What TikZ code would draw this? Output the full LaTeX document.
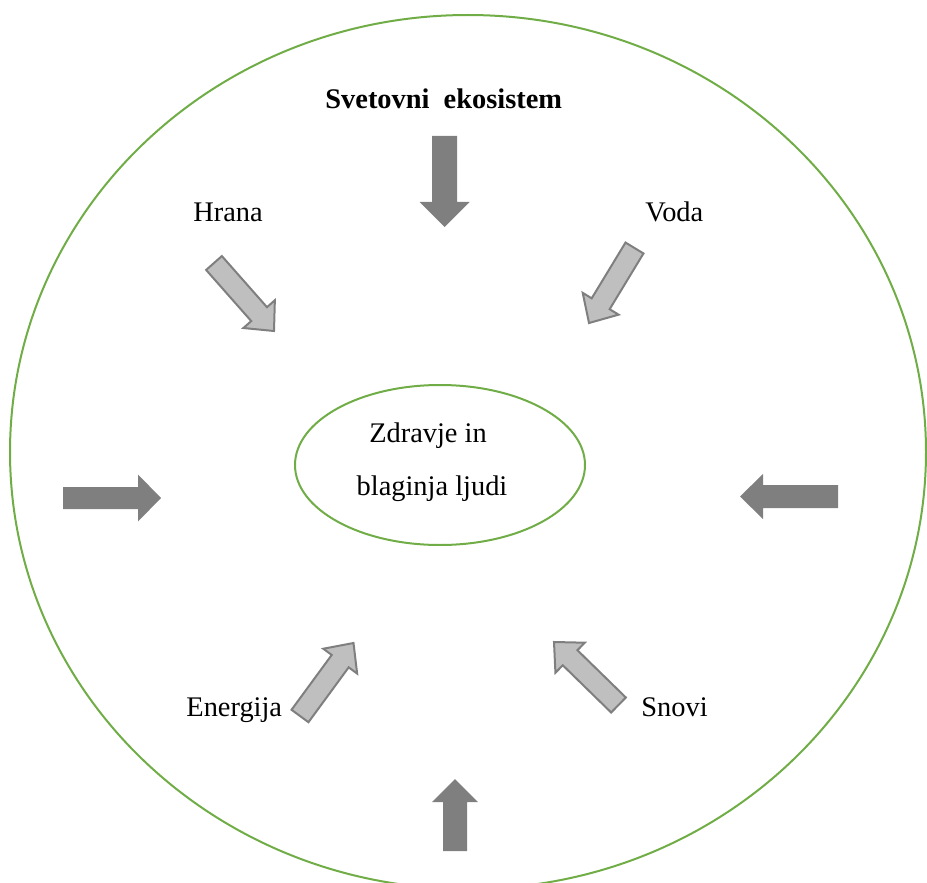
\documentclass[tikz,border=0pt]{standalone}
\usepackage{fontspec}
\setmainfont{Liberation Serif}
\usetikzlibrary{calc,shapes.geometric}

\definecolor{ringgreen}{HTML}{70AD47}
\definecolor{arrowdark}{HTML}{7F7F7F}
\definecolor{arrowlight}{HTML}{BFBFBF}

\tikzset{
  ring/.style={ellipse, draw=ringgreen, line width=1pt, inner sep=0pt},
  darkarrow/.style={fill=arrowdark, draw=none},
  lightarrow/.style={fill=arrowlight, draw=arrowdark, line width=1pt, line join=miter},
  lbl/.style={inner sep=0pt, font=\fontsize{14.2}{17}\selectfont},
  title/.style={lbl, font=\fontsize{14.2}{17}\selectfont\bfseries},
}

% Block arrow: #1 style, #2 name, #3 tail, #4 tip,
% #5 shaft half-width, #6 head half-width, #7 head length
\newcommand{\blockarrow}[7]{%
  \coordinate (#2-tail) at #3;
  \coordinate (#2-tip) at #4;
  \coordinate (#2-neck) at ($(#2-tip)!#7!(#2-tail)$);
  \draw[#1] ($(#2-tail)!#5!90:(#2-tip)$)
    -- ($(#2-neck)!#5!90:(#2-tip)$)
    -- ($(#2-neck)!#6!90:(#2-tip)$)
    -- (#2-tip)
    -- ($(#2-neck)!#6!-90:(#2-tip)$)
    -- ($(#2-neck)!#5!-90:(#2-tip)$)
    -- ($(#2-tail)!#5!-90:(#2-tip)$)
    -- cycle;
}

\begin{document}
\begin{tikzpicture}[x=0.5pt, y=-0.5pt]
  \useasboundingbox (0,0) rectangle (927,883);

  % outer and inner ellipses
  \node[ring, minimum width=458pt, minimum height=437pt] (world) at (468,452) {};
  \node[ring, minimum width=145pt, minimum height=80pt] (core) at (440,465) {};

  % centre text
  \node[lbl, anchor=base] (coretop) at (428,442) {Zdravje in};
  \node[lbl, anchor=base] (corebottom) at (432,495) {blaginja ljudi};

  % heading and resource labels
  \node[title, anchor=base west] (heading) at (325,109) {Svetovni\ \ ekosistem};
  \node[lbl, anchor=base west] (hrana) at (193,221) {Hrana};
  \node[lbl, anchor=base west] (voda) at (645,221) {Voda};
  \node[lbl, anchor=base west] (energija) at (186,716) {Energija};
  \node[lbl, anchor=base west] (snovi) at (641,716) {Snovi};

  % dark arrows (top, bottom, left, right)
  \blockarrow{darkarrow}{atop}{(444.5,136)}{(444.5,227)}{6.25pt}{12.5pt}{12.5pt}
  \blockarrow{darkarrow}{abottom}{(455,851)}{(455,779)}{6pt}{11.5pt}{11.5pt}
  \blockarrow{darkarrow}{aleft}{(63,498)}{(161,498)}{5.5pt}{11.75pt}{11.5pt}
  \blockarrow{darkarrow}{aright}{(838,496.5)}{(740,496.5)}{5.75pt}{11.25pt}{11.5pt}

  % light arrows (diagonals)
  \blockarrow{lightarrow}{ahrana}{(214,263)}{(274,331)}{5.25pt}{10.5pt}{11.25pt}
  \blockarrow{lightarrow}{avoda}{(634.5,248)}{(589,323)}{5.25pt}{10.5pt}{11.25pt}
  \blockarrow{lightarrow}{aenergija}{(300,716)}{(353.5,643)}{5.25pt}{10.5pt}{11.25pt}
  \blockarrow{lightarrow}{asnovi}{(618.5,705)}{(554,642)}{5.25pt}{10.5pt}{11.25pt}
\end{tikzpicture}
\end{document}
